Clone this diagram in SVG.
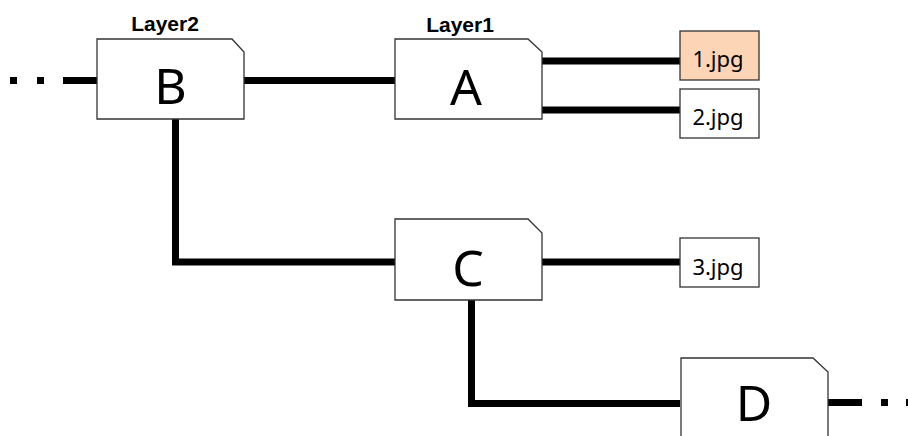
<svg xmlns="http://www.w3.org/2000/svg" width="908" height="436" viewBox="0 0 908 436">
<style>
.box{fill:#fff;stroke:#333;stroke-width:1.3}
.file{fill:#fff;stroke:#333;stroke-width:1.3}
.hl{fill:#FBD5B5}
.big{font-family:"Noto Sans","Open Sans",sans-serif;font-size:50px;fill:#000;text-anchor:middle}
.fn{font-family:"Noto Sans","Open Sans",sans-serif;font-size:22px;fill:#000;text-anchor:middle}
.lay{font-family:"Liberation Sans",Arial,sans-serif;font-size:21px;font-weight:bold;fill:#000;text-anchor:middle}
.c{fill:none;stroke:#000;stroke-width:7;stroke-linejoin:miter;stroke-linecap:butt}
.dot{fill:#000}
</style>
<rect width="908" height="436" fill="#fff"/>
<g id="connectors">
<rect class="dot" x="10" y="77" width="7" height="7"/>
<rect class="dot" x="37" y="77" width="7" height="7"/>
<line class="c" x1="63" y1="80.5" x2="97" y2="80.5"/>
<line class="c" x1="244" y1="80.5" x2="395" y2="80.5"/>
<polyline class="c" points="175.5,119 175.5,262 395,262"/>
<line class="c" x1="542" y1="61" x2="680" y2="61"/>
<line class="c" x1="542" y1="110" x2="680" y2="110"/>
<line class="c" x1="542" y1="262" x2="680" y2="262"/>
<polyline class="c" points="471.5,300 471.5,403.5 680,403.5"/>
<line class="c" x1="828" y1="402.5" x2="862" y2="402.5"/>
<rect class="dot" x="881" y="399" width="7" height="7"/>
<rect class="dot" x="906" y="399" width="7" height="7"/>
</g>
<g id="node-B">
<path class="box" d="M97,39 H232 L244,52 V119 H97 Z"/>
<text class="big" x="170.5" y="104">B</text>
<text class="lay" x="165" y="31">Layer2</text>
</g>
<g id="node-A">
<path class="box" d="M395,39 H528 L542,52 V119 H395 Z"/>
<text class="big" x="466" y="105">A</text>
<text class="lay" x="460" y="32">Layer1</text>
</g>
<g id="node-C">
<path class="box" d="M395,219 H528 L542,233 V300 H395 Z"/>
<text class="big" x="468" y="286">C</text>
</g>
<g id="node-D">
<path class="box" d="M681,358 H813 L828,372 V440 H681 Z"/>
<text class="big" x="754" y="421">D</text>
</g>
<g id="file-1">
<rect class="file hl" x="680" y="31" width="79" height="49"/>
<text class="fn" x="718" y="67">1.jpg</text>
</g>
<g id="file-2">
<rect class="file" x="680" y="89" width="79" height="49"/>
<text class="fn" x="718" y="125">2.jpg</text>
</g>
<g id="file-3">
<rect class="file" x="680" y="238" width="79" height="49"/>
<text class="fn" x="718" y="275">3.jpg</text>
</g>
</svg>
